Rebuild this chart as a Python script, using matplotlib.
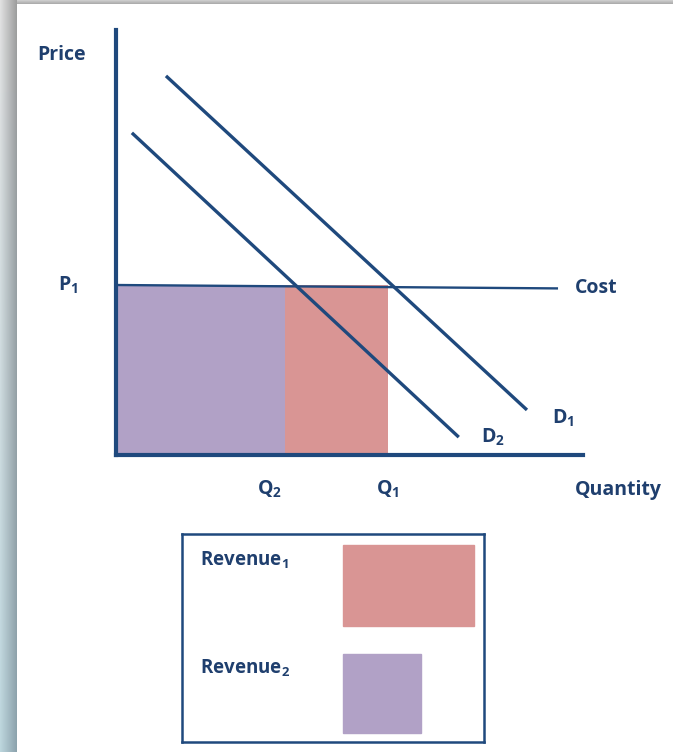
import numpy as np
import matplotlib
matplotlib.use("Agg")
import matplotlib.pyplot as plt
from matplotlib.patches import Rectangle

# --- data (price / quantity in arbitrary units, 0..100) ---
P1 = 40.0
Q1 = 58.2
Q2 = 36.2
d1_q = [10.7, 88.0]
d1_p = [89.2, 10.6]
d2_q = [3.4, 73.4]
d2_p = [75.8, 4.2]
cost_q = [0.0, 94.4]
cost_p = [40.0, 39.2]

navy = "#1F497D"
txt = "#1F3F6E"
red = "#D99594"
purple = "#B1A1C6"
fam = ["Open Sans", "DejaVu Sans"]

plt.rcParams["mathtext.fontset"] = "custom"
plt.rcParams["mathtext.rm"] = "Open Sans:bold"
plt.rcParams["mathtext.bf"] = "Open Sans:bold"
plt.rcParams["mathtext.default"] = "rm"

W, H = 673, 752
fig = plt.figure(figsize=(W / 100, H / 100), dpi=100)

# background with shadowed frame on top and left
img = np.ones((H, W, 3))
ls = 17
for i in range(ls):
    t = i / (ls - 1)
    top_c = np.array([0.88, 0.88, 0.88]) * (1 - t) + np.array([0.62, 0.62, 0.62]) * t
    bot_c = np.array([0.74, 0.84, 0.87]) * (1 - t) + np.array([0.55, 0.64, 0.68]) * t
    for k in range(3):
        img[:, i, k] = np.linspace(top_c[k], bot_c[k], H)
ts = 4
for j in range(ts):
    t = j / (ts - 1)
    img[j, ls:, :] = 0.80 * (1 - t) + 0.68 * t
bg = fig.add_axes([0, 0, 1, 1])
bg.imshow(img, aspect="auto", interpolation="bilinear")
bg.axis("off")

# main diagram
ax = fig.add_axes([116 / W, 1 - 455 / H, (583 - 116) / W, (455 - 30) / H])
ax.set_xlim(0, 100)
ax.set_ylim(0, 100)
ax.patch.set_alpha(0)
for s in ["top", "right"]:
    ax.spines[s].set_visible(False)
for s in ["left", "bottom"]:
    ax.spines[s].set_color(navy)
    ax.spines[s].set_linewidth(3.0)
ax.set_xticks([])
ax.set_yticks([])

ax.bar(0, P1, width=Q2, align="edge", color=purple, zorder=1)
ax.bar(Q2, P1, width=Q1 - Q2, align="edge", color=red, zorder=1)
ax.plot(cost_q, cost_p, color=navy, lw=1.7, zorder=2)
ax.plot(d1_q, d1_p, color=navy, lw=2.4, solid_capstyle="butt", zorder=3)
ax.plot(d2_q, d2_p, color=navy, lw=2.4, solid_capstyle="butt", zorder=3)

kw = dict(color=txt, fontweight="bold", fontsize=14, family=fam, clip_on=False)
ax.text(-11.6, 94.1, "Price", ha="center", va="center", **kw)
ax.text(-10.3, P1, r"P$_1$", ha="center", va="center", **kw)
ax.text(98.3, cost_p[1], "Cost", ha="left", va="center", **kw)
ax.text(95.7, 8.7, r"D$_1$", ha="center", va="center", **kw)
ax.text(80.7, 4.2, r"D$_2$", ha="center", va="center", **kw)
ax.text(Q2 - 3.3, -8.2, r"Q$_2$", ha="center", va="center", **kw)
ax.text(Q1, -8.2, r"Q$_1$", ha="center", va="center", **kw)
ax.text(98.3, -8.2, "Quantity", ha="left", va="center", **kw)

# legend box
lg = fig.add_axes([182 / W, 1 - 742 / H, (484 - 182) / W, (742 - 534) / H])
lg.set_xlim(0, 302)
lg.set_ylim(208, 0)
lg.set_xticks([])
lg.set_yticks([])
for s in lg.spines.values():
    s.set_color(navy)
    s.set_linewidth(1.8)
lg.add_patch(Rectangle((161, 11), 131, 81, color=red))
lg.add_patch(Rectangle((161, 120), 78, 79, color=purple))
kw2 = dict(color=txt, fontweight="bold", fontsize=13.5, family=fam)
lg.text(18, 26, r"Revenue$_1$", ha="left", va="center", **kw2)
lg.text(18, 134, r"Revenue$_2$", ha="left", va="center", **kw2)

fig.savefig("out.png", dpi=100)
